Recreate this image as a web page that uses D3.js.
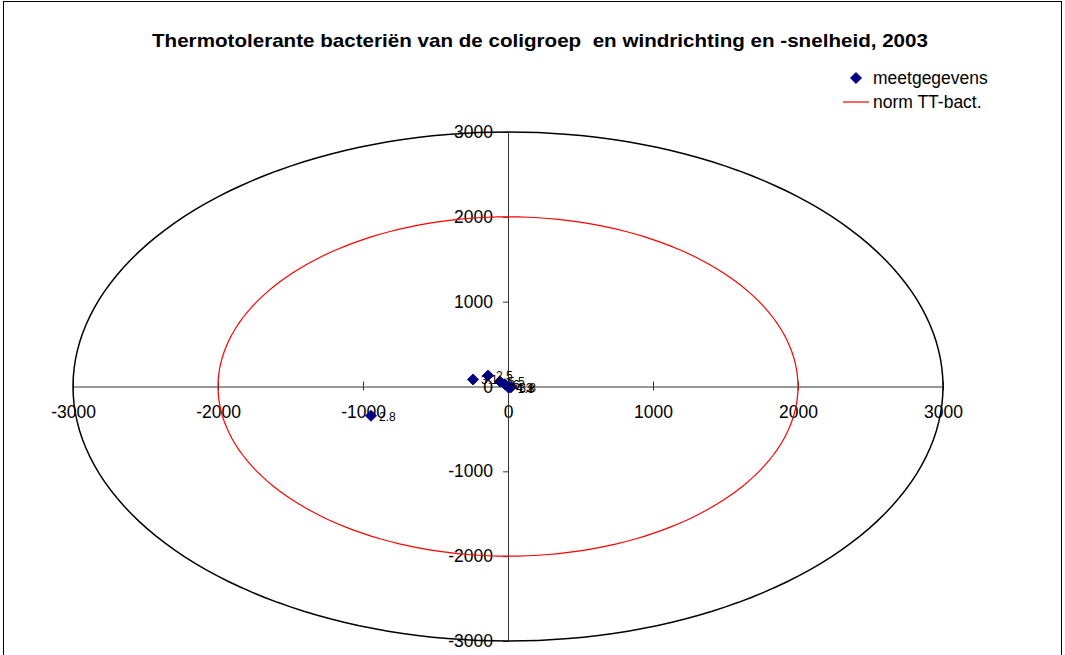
<!DOCTYPE html>
<html>
<head>
<meta charset="utf-8">
<script src="https://cdn.jsdelivr.net/npm/d3@7/dist/d3.min.js"></script>
<style>
  html, body { margin: 0; padding: 0; background: #fff; }
  svg text { font-family: "Liberation Sans", Arial, sans-serif; }
</style>
</head>
<body>
<svg id="chart" width="1065" height="655"></svg>
<script>
// Measurements: direction/speed projected onto x/y, with wind speed as label
const pointX = [-945, -241, -138, -55, -20, 0, 12, 22];
const pointY = [-345, 83, 130, 59, 24, -5, -12, -6];
const pointLabels = ["2.8", "3.1", "2.5", "5.5", "6", "4.3", "1.8", "3.8"];

// Reference circles: norm TT-bact. (red) and outer frame circle (black)
const normRadius = [2000];
const outerRadius = [3000];

const tickValues = [-3000, -2000, -1000, 0, 1000, 2000, 3000];

const title = "Thermotolerante bacteriën van de coligroep  en windrichting en -snelheid, 2003";
const legendNames = ["meetgegevens", "norm TT-bact."];

const svg = d3.select("#chart");
const navy = "#000080";

// frame
svg.append("rect")
  .attr("x", 3.5).attr("y", 1.5).attr("width", 1058).attr("height", 700)
  .attr("fill", "#fff").attr("stroke", "#000").attr("stroke-width", 1);

const x = d3.scaleLinear().domain([-3000, 3000]).range([73, 943]);
const y = d3.scaleLinear().domain([-3000, 3000]).range([641, 132]);

// title
svg.append("text")
  .attr("x", 540).attr("y", 47)
  .attr("text-anchor", "middle")
  .attr("font-size", 19).attr("font-weight", "bold")
  .attr("textLength", 776).attr("lengthAdjust", "spacingAndGlyphs")
  .style("white-space", "pre")
  .text(title);

// axes through the origin
const xAxis = d3.axisBottom(x).tickValues(tickValues).tickSize(0).tickFormat(d => d);
const gx = svg.append("g").attr("transform", `translate(0,${y(0)})`).call(xAxis);
gx.select(".domain").attr("stroke", "#333");
gx.selectAll("text").attr("font-size", 17.5).attr("dy", "1.62em").attr("fill", "#000");
// crossing tick marks
gx.selectAll(".tick").append("line")
  .attr("y1", -5).attr("y2", 4).attr("stroke", "#333");

const yAxis = d3.axisLeft(y).tickValues(tickValues).tickSize(5).tickPadding(10).tickFormat(d => d);
const gy = svg.append("g").attr("transform", `translate(${x(0)},0)`).call(yAxis);
gy.select(".domain").attr("stroke", "#333");
gy.selectAll(".tick line").attr("stroke", "#333");
gy.selectAll("text").attr("font-size", 17.5).attr("fill", "#000");

// circles as parametric lines
const angles = d3.range(0, 361, 2).map(a => a * Math.PI / 180);
const ring = r => d3.line()
  .x(t => x(r * Math.cos(t)))
  .y(t => y(r * Math.sin(t)))
  .curve(d3.curveLinearClosed)(angles);

svg.append("g").selectAll("path.outer").data(outerRadius).join("path")
  .attr("class", "outer")
  .attr("d", r => ring(r))
  .attr("fill", "none").attr("stroke", "#000").attr("stroke-width", 1.5);

svg.append("g").selectAll("path.norm").data(normRadius).join("path")
  .attr("class", "norm")
  .attr("d", r => ring(r))
  .attr("fill", "none").attr("stroke", "#ff0000").attr("stroke-width", 1.2);

// measurement markers
const diamond = d3.symbol().type(d3.symbolSquare).size(62);
const pts = pointX.map((v, i) => ({ x: v, y: pointY[i], label: pointLabels[i] }));

svg.append("g").selectAll("path.pt").data(pts).join("path")
  .attr("class", "pt")
  .attr("d", diamond)
  .attr("transform", d => `translate(${x(d.x)},${y(d.y)}) rotate(45)`)
  .attr("fill", navy).attr("stroke", navy).attr("stroke-width", 0.8);

svg.append("g").selectAll("text.lbl").data(pts).join("text")
  .attr("class", "lbl")
  .attr("x", d => x(d.x) + 8)
  .attr("y", d => y(d.y) + 5)
  .attr("font-size", 12).attr("fill", "#000")
  .text(d => d.label);

// legend
const lg = svg.append("g");
lg.append("path").attr("d", diamond)
  .attr("transform", "translate(856,78) rotate(45)")
  .attr("fill", navy).attr("stroke", navy).attr("stroke-width", 0.8);
lg.append("line").attr("x1", 843).attr("x2", 869).attr("y1", 102).attr("y2", 102)
  .attr("stroke", "#ff0000").attr("stroke-width", 1.2);
lg.selectAll("text").data(legendNames).join("text")
  .attr("x", 873).attr("y", (d, i) => 84 + i * 24)
  .attr("font-size", 17.5).attr("fill", "#000")
  .text(d => d);
</script>
</body>
</html>
